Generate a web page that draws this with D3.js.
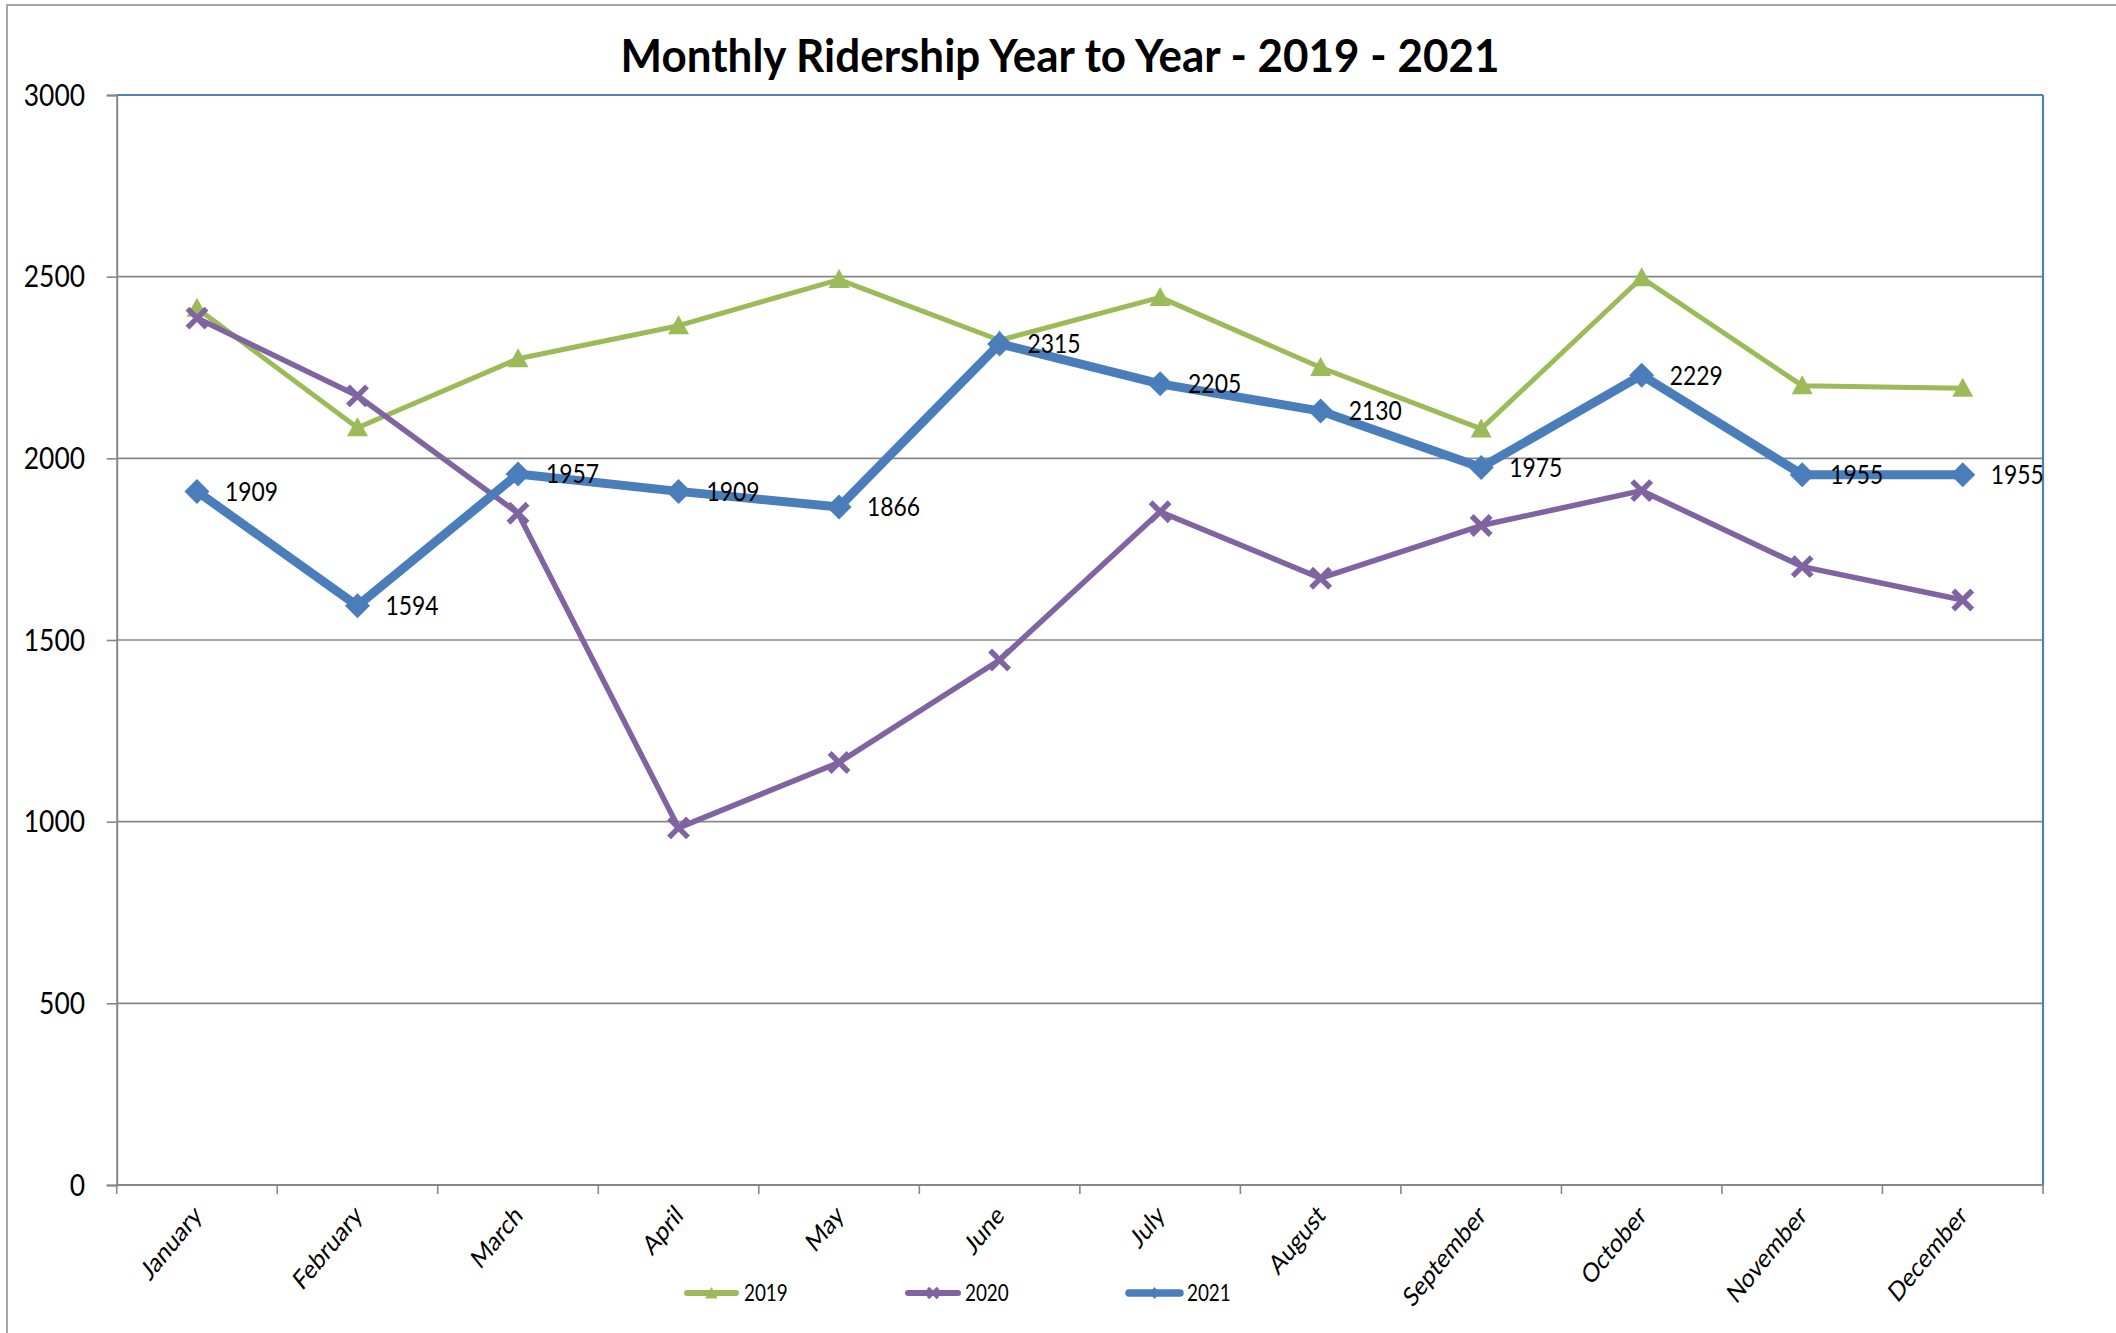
<!DOCTYPE html>
<html>
<head>
<meta charset="utf-8">
<script src="https://cdn.jsdelivr.net/npm/d3@7"></script>
<style>
  html, body { margin: 0; padding: 0; background: #fff; }
  svg { display: block; }
  text { font-family: Lato, "Open Sans", "DejaVu Sans", sans-serif; fill: #000; }
</style>
</head>
<body>
<svg id="chart" width="2116" height="1333"></svg>
<script>
// ---- data ----
const months = ["January","February","March","April","May","June","July","August","September","October","November","December"];
const values2019 = [2413, 2084, 2274, 2365, 2492, 2325, 2443, 2250, 2081, 2497, 2200, 2193];
const values2020 = [2386, 2172, 1849, 983, 1163, 1445, 1853, 1670, 1815, 1911, 1702, 1610];
const values2021 = [1909, 1594, 1957, 1909, 1866, 2315, 2205, 2130, 1975, 2229, 1955, 1955];
const yTicks = [0, 500, 1000, 1500, 2000, 2500, 3000];
const seriesNames = ["2019", "2020", "2021"];
const titleText = "Monthly Ridership Year to Year - 2019 - 2021";

// ---- layout / style ----
const W = 2116, H = 1333;
const pL = 116.7, pR = 2043, pT = 95, pB = 1185;
const SX = 0.88; // horizontal text compression seen in the reference
const colors = { "2019": "#9BBB59", "2020": "#8064A2", "2021": "#4A7EBB" };
const gridColor = "#878787";

const svg = d3.select("#chart");
svg.append("rect").attr("width", W).attr("height", H).attr("fill", "#fff");

// outer chart border (cropped at right/bottom)
svg.append("rect").attr("x", 7).attr("y", 5).attr("width", W + 20).attr("height", H + 20)
  .attr("fill", "none").attr("stroke", "#8a8a8a").attr("stroke-width", 1.5);

const x = d3.scaleBand().domain(months).range([pL, pR]).padding(0);
const y = d3.scaleLinear().domain([0, 3000]).range([pB, pT]);
const cx = m => x(m) + x.bandwidth() / 2;

// gridlines
svg.append("g").selectAll("line").data(yTicks.filter(t => t > 0 && t < 3000)).join("line")
  .attr("x1", pL).attr("x2", pR)
  .attr("y1", d => y(d)).attr("y2", d => y(d))
  .attr("stroke", gridColor).attr("stroke-width", 1.6);

// y axis with ticks
const yAxis = d3.axisLeft(y).tickValues(yTicks).tickSize(10).tickPadding(0).tickFormat("");
const yg = svg.append("g").attr("transform", `translate(${pL},0)`).call(yAxis);
yg.select(".domain").attr("stroke", gridColor).attr("stroke-width", 2);
yg.selectAll(".tick line").attr("stroke", gridColor).attr("stroke-width", 1.6);

// y labels
svg.append("g").selectAll("text").data(yTicks).join("text")
  .attr("transform", d => `translate(85,${y(d)}) scale(${SX},1)`)
  .attr("text-anchor", "end").attr("dy", "0.36em")
  .style("font-size", "30px")
  .text(d => d);

// top & right plot border (blue)
svg.append("line").attr("x1", pL).attr("x2", pR).attr("y1", pT).attr("y2", pT)
  .attr("stroke", "#4F81BD").attr("stroke-width", 1.8);
svg.append("line").attr("x1", pR).attr("x2", pR).attr("y1", pT).attr("y2", pB)
  .attr("stroke", "#4F81BD").attr("stroke-width", 2.2);

// x axis
const xb = d3.range(months.length + 1).map(i => pL + i * x.bandwidth());
svg.append("line").attr("x1", pL).attr("x2", pR).attr("y1", pB).attr("y2", pB)
  .attr("stroke", gridColor).attr("stroke-width", 2);
svg.append("g").selectAll("line").data(xb).join("line")
  .attr("x1", d => d).attr("x2", d => d).attr("y1", pB).attr("y2", pB + 9)
  .attr("stroke", gridColor).attr("stroke-width", 1.6);

// x labels rotated
svg.append("g").selectAll("text").data(months).join("text")
  .attr("transform", d => `translate(${cx(d) + 6},${pB + 32}) scale(0.82,1) rotate(-45)`)
  .attr("text-anchor", "end")
  .style("font-size", "27px")
  .text(d => d);

// marker paths
const triPath = s => `M0,${-s}L${s * 1.05},${s * 0.9}L${-s * 1.05},${s * 0.9}Z`;
const diaPath = (w, h) => `M0,${-h}L${w},0L0,${h}L${-w},0Z`;
const xPath = s => `M${-s},${-s}L${s},${s}M${-s},${s}L${s},${-s}`;

const line = d3.line().x(d => cx(d.m)).y(d => y(d.v));
const toPts = arr => months.map((m, i) => ({ m, v: arr[i] }));

// 2019
const g19 = svg.append("g");
g19.append("path").datum(toPts(values2019)).attr("d", line)
  .attr("fill", "none").attr("stroke", colors["2019"]).attr("stroke-width", 5).attr("stroke-linejoin", "round");
g19.selectAll("path.m").data(toPts(values2019)).join("path").attr("class", "m")
  .attr("transform", d => `translate(${cx(d.m)},${y(d.v) - 0.5})`)
  .attr("d", triPath(10)).attr("fill", colors["2019"]);

// 2020
const g20 = svg.append("g");
g20.append("path").datum(toPts(values2020)).attr("d", line)
  .attr("fill", "none").attr("stroke", colors["2020"]).attr("stroke-width", 5.5).attr("stroke-linejoin", "round");
g20.selectAll("path.m").data(toPts(values2020)).join("path").attr("class", "m")
  .attr("transform", d => `translate(${cx(d.m)},${y(d.v)})`)
  .attr("d", xPath(9.5)).attr("fill", "none").attr("stroke", colors["2020"]).attr("stroke-width", 5.5);

// 2021
const g21 = svg.append("g");
g21.append("path").datum(toPts(values2021)).attr("d", line)
  .attr("fill", "none").attr("stroke", colors["2021"]).attr("stroke-width", 9).attr("stroke-linejoin", "round");
g21.selectAll("path.m").data(toPts(values2021)).join("path").attr("class", "m")
  .attr("transform", d => `translate(${cx(d.m)},${y(d.v)})`)
  .attr("d", diaPath(12.5, 12.5)).attr("fill", colors["2021"]);

// data labels 2021
svg.append("g").selectAll("text").data(toPts(values2021)).join("text")
  .attr("transform", d => `translate(${cx(d.m) + 28},${y(d.v)}) scale(${SX},1)`)
  .attr("dy", "0.36em")
  .style("font-size", "26px")
  .text(d => d.v);

// title
const title = svg.append("text")
  .attr("text-anchor", "middle")
  .style("font-size", "45px").style("font-weight", "bold")
  .text(titleText);
const natural = title.node().getComputedTextLength();
const tsx = 879 / natural;
title.attr("transform", `translate(1060,72) scale(${tsx},1)`);

// legend
const legendItems = [
  { name: seriesNames[0], x0: 684, x1: 739, tx: 744, w: 6, marker: "tri" },
  { name: seriesNames[1], x0: 905, x1: 961, tx: 965, w: 6, marker: "x" },
  { name: seriesNames[2], x0: 1126, x1: 1183, tx: 1187, w: 7.5, marker: "dia" }
];
const ly = 1293;
const lg = svg.append("g");
legendItems.forEach(it => {
  const c = colors[it.name];
  lg.append("line").attr("x1", it.x0 + 3).attr("x2", it.x1 - 3).attr("y1", ly).attr("y2", ly)
    .attr("stroke", c).attr("stroke-width", it.w).attr("stroke-linecap", "round");
  const mx = (it.x0 + it.x1) / 2;
  if (it.marker === "tri") {
    lg.append("path").attr("transform", `translate(${mx},${ly})`).attr("d", triPath(6)).attr("fill", c);
  } else if (it.marker === "x") {
    lg.append("path").attr("transform", `translate(${mx},${ly})`).attr("d", xPath(5))
      .attr("stroke", c).attr("stroke-width", 3.5).attr("fill", "none");
  } else {
    lg.append("path").attr("transform", `translate(${mx},${ly})`).attr("d", diaPath(5, 6)).attr("fill", c);
  }
  lg.append("text").attr("transform", `translate(${it.tx},${ly}) scale(0.82,1)`)
    .attr("dy", "0.36em").style("font-size", "23px").text(it.name);
});
</script>
</body>
</html>
